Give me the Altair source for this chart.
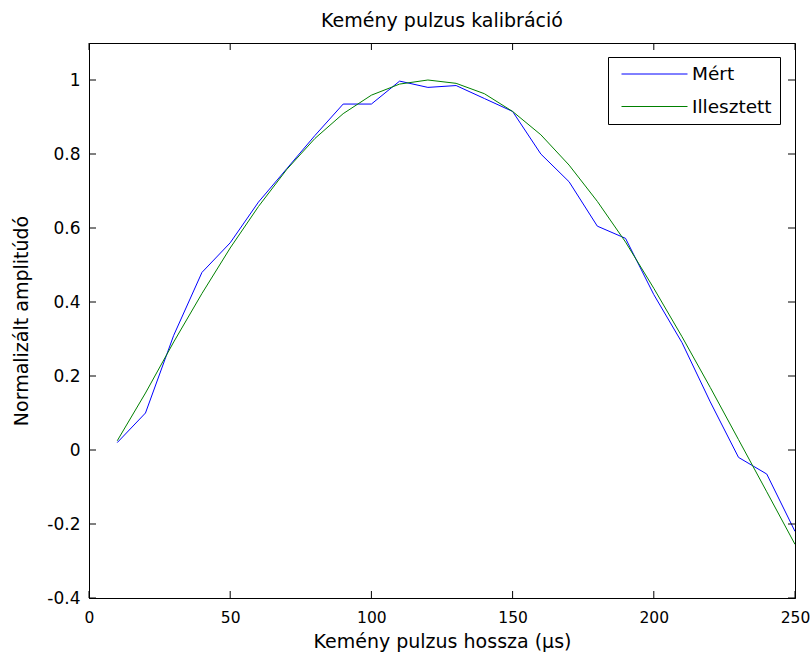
import altair as alt
import pandas as pd

# ---- data ----
pulse_us = [10, 20, 30, 40, 50, 60, 70, 80, 90, 100, 110, 120, 130,
            140, 150, 160, 170, 180, 190, 200, 210, 220, 230, 240, 250]
measured = [0.02, 0.10, 0.31, 0.48, 0.56, 0.67, 0.76, 0.85, 0.935, 0.935,
            0.997, 0.98, 0.985, 0.95, 0.915, 0.80, 0.725, 0.605, 0.572,
            0.42, 0.29, 0.13, -0.02, -0.065, -0.22]
fitted = [0.025, 0.154, 0.292, 0.423, 0.546, 0.658, 0.758, 0.842, 0.909,
          0.959, 0.989, 1.000, 0.991, 0.963, 0.915, 0.852, 0.770, 0.672,
          0.562, 0.437, 0.306, 0.169, 0.028, -0.113, -0.255]
series_names = ["Mért", "Illesztett"]
series_colors = ["#0000ff", "#008000"]
x_ticks = [0, 50, 100, 150, 200, 250]
y_ticks = [-0.4, -0.2, 0, 0.2, 0.4, 0.6, 0.8, 1]

df = pd.DataFrame({
    "x": pulse_us + pulse_us,
    "y": measured + fitted,
    "series": [series_names[0]] * len(pulse_us) + [series_names[1]] * len(pulse_us),
})
xt = pd.DataFrame({"x": x_ticks})
yt = pd.DataFrame({"y": y_ticks})

W, H = 706, 555
TICK = 7
FONT = "DejaVu Sans"
xscale = alt.Scale(domain=[0, 250], nice=False, zero=False)
yscale = alt.Scale(domain=[-0.4, 1.1], nice=False, zero=False)

lines = alt.Chart(df).mark_line(strokeWidth=1, clip=True).encode(
    x=alt.X("x:Q", scale=xscale,
            axis=alt.Axis(values=x_ticks, title="Kemény pulzus hossza (µs)",
                          ticks=False, tickSize=0, grid=False, labelPadding=12,
                          titlePadding=7, labelFontSize=15.5, titleFontSize=19,
                          labelFont=FONT, titleFont=FONT, labelColor="black",
                          titleColor="black", titleFontWeight="normal",
                          domainColor="black", labelFlush=False,
                          labelExpr="'' + datum.value")),
    y=alt.Y("y:Q", scale=yscale,
            axis=alt.Axis(values=y_ticks, title="Normalizált amplitúdó",
                          ticks=False, tickSize=0, grid=False, labelPadding=9,
                          titlePadding=15, labelFontSize=17, titleFontSize=19,
                          labelFont=FONT, titleFont=FONT, labelColor="black",
                          titleColor="black", titleFontWeight="normal",
                          domainColor="black", labelFlush=False,
                          labelExpr="'' + datum.value")),
    color=alt.Color("series:N",
                    scale=alt.Scale(domain=series_names, range=series_colors),
                    legend=alt.Legend(title=None, orient="none", legendX=519,
                                      legendY=14, strokeColor="black",
                                      fillColor="white", padding=8,
                                      symbolOffset=5,
                                      symbolType="stroke", symbolSize=4356,
                                      symbolStrokeWidth=1, clipHeight=18,
                                      rowPadding=13.5, labelOffset=4,
                                      labelFont=FONT, labelFontSize=18.5,
                                      labelColor="black")),
)

# inward tick marks on all four sides
tick_style = dict(color="black", strokeWidth=1)
ticks_bottom = alt.Chart(xt).mark_rule(**tick_style).encode(
    x=alt.X("x:Q", scale=xscale), y=alt.value(H), y2=alt.value(H - TICK))
ticks_top = alt.Chart(xt).mark_rule(**tick_style).encode(
    x=alt.X("x:Q", scale=xscale), y=alt.value(0), y2=alt.value(TICK))
ticks_left = alt.Chart(yt).mark_rule(**tick_style).encode(
    y=alt.Y("y:Q", scale=yscale), x=alt.value(0), x2=alt.value(TICK))
ticks_right = alt.Chart(yt).mark_rule(**tick_style).encode(
    y=alt.Y("y:Q", scale=yscale), x=alt.value(W), x2=alt.value(W - TICK))

chart = alt.layer(
    lines, ticks_bottom, ticks_top, ticks_left, ticks_right
).properties(
    width=W, height=H,
    title=alt.TitleParams("Kemény pulzus kalibráció", font=FONT, fontSize=19,
                          fontWeight="normal", color="black", anchor="middle",
                          frame="group", offset=12),
    padding={"left": 89, "top": 43, "right": 15, "bottom": 60},
    autosize="none",
    background="white",
).configure_view(stroke="black", strokeWidth=1)

chart.save("out.html", embed_options={"renderer": "svg", "actions": False})
